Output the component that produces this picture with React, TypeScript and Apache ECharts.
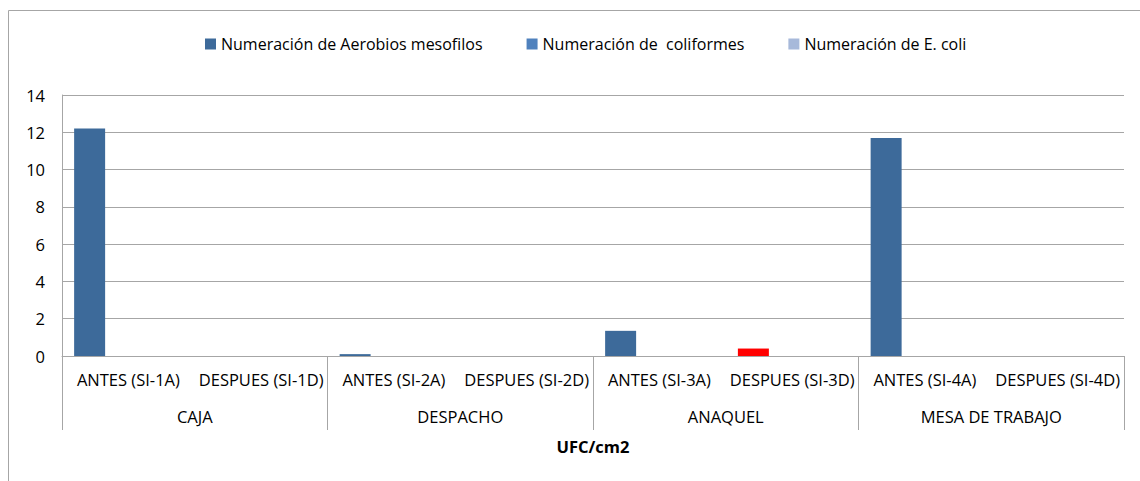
import React, { useEffect, useRef } from "react";
import * as echarts from "echarts";

const subCategories = [
  "ANTES (SI-1A)",
  "DESPUES (SI-1D)",
  "ANTES (SI-2A)",
  "DESPUES (SI-2D)",
  "ANTES (SI-3A)",
  "DESPUES (SI-3D)",
  "ANTES (SI-4A)",
  "DESPUES (SI-4D)",
];
const groups = ["CAJA", "DESPACHO", "ANAQUEL", "MESA DE TRABAJO"];
const aerobios = [12.2, 0, 0.1, 0, 1.35, 0.4, 11.7, 0];
const coliformes = [0, 0, 0, 0, 0, 0, 0, 0];
const ecoli = [0, 0, 0, 0, 0, 0, 0, 0];
const highlightIndex = 5;
const seriesNames = [
  "Numeración de Aerobios mesofilos",
  "Numeración de  coliformes",
  "Numeración de E. coli",
];
const yTicks = { min: 0, max: 14, interval: 2 };

const FONT = "'Open Sans', sans-serif";
const GRAY = "#a6a6a6";
const FS = 16.5;

export default function App() {
  const ref = useRef<HTMLDivElement>(null);
  useEffect(() => {
    document.body.style.margin = "0";
    document.body.style.overflow = "hidden";
    const chart = echarts.init(ref.current!, null, { renderer: "svg" });
    const barCommon = { type: "bar", barWidth: 31, barGap: "25%", xAxisIndex: 0, yAxisIndex: 0 };
    chart.setOption({
      animation: false,
      backgroundColor: "#fff",
      textStyle: { fontFamily: FONT },
      graphic: [
        {
          type: "rect",
          shape: { x: 8.5, y: 10.5, width: 1400, height: 700 },
          style: { fill: "none", stroke: GRAY, lineWidth: 1 },
          silent: true,
        },
      ],
      legend: {
        left: 200,
        top: 31,
        itemWidth: 11,
        itemHeight: 11,
        itemGap: 44,
        icon: "rect",
        textStyle: { fontSize: 16, color: "#000", fontFamily: FONT },
        data: seriesNames,
      },
      grid: { left: 62, right: 16, top: 95, bottom: 125, containLabel: false },
      xAxis: [
        {
          type: "category",
          data: subCategories,
          position: "bottom",
          axisLine: { show: true, lineStyle: { color: GRAY } },
          axisTick: { show: false },
          axisLabel: { interval: 0, margin: 15, fontSize: FS, color: "#000", fontFamily: FONT },
        },
        {
          type: "category",
          data: groups,
          position: "bottom",
          axisLine: { show: false },
          axisTick: { show: true, length: 74, interval: 0, lineStyle: { color: GRAY } },
          axisLabel: { interval: 0, margin: 52, fontSize: FS, color: "#000", fontFamily: FONT },
          name: "UFC/cm2",
          nameLocation: "middle",
          nameGap: 82,
          nameTextStyle: { fontSize: FS, fontWeight: "bold", color: "#000", fontFamily: FONT },
        },
      ],
      yAxis: {
        type: "value",
        min: yTicks.min,
        max: yTicks.max,
        interval: yTicks.interval,
        axisLine: { show: true, lineStyle: { color: GRAY } },
        axisTick: { show: false },
        splitLine: { show: true, lineStyle: { color: GRAY } },
        axisLabel: { margin: 17, fontSize: FS, color: "#000", fontFamily: FONT },
      },
      series: [
        {
          ...barCommon,
          name: seriesNames[0],
          itemStyle: { color: "#3d6a9a" },
          data: aerobios.map((v, i) =>
            i === highlightIndex ? { value: v, itemStyle: { color: "#ff0000" } } : v
          ),
        },
        { ...barCommon, name: seriesNames[1], itemStyle: { color: "#4f81bd" }, data: coliformes },
        { ...barCommon, name: seriesNames[2], itemStyle: { color: "#a7b9da" }, data: ecoli },
      ],
    });
    return () => chart.dispose();
  }, []);
  return <div ref={ref} style={{ width: 1140, height: 481 }} />;
}
